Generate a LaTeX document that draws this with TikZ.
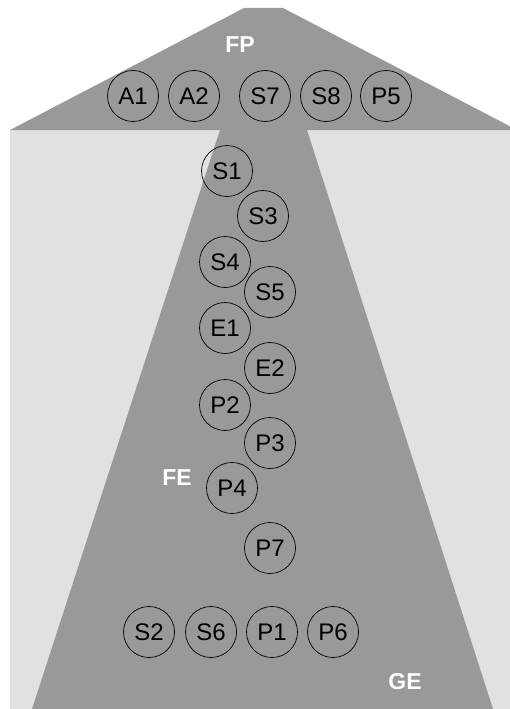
\documentclass[tikz,border=0pt]{standalone}
\usepackage{fontspec}
\setmainfont{Liberation Sans}
\definecolor{darkfill}{HTML}{999999}
\definecolor{lightfill}{HTML}{E1E1E1}
\begin{document}
\begin{tikzpicture}[x=1pt,y=-1pt,
  item/.style={circle,draw=black,line width=0.7pt,minimum size=51pt,inner sep=0pt,font=\fontsize{24}{26}\selectfont},
  zone/.style={text=white,font=\fontsize{23}{25}\selectfont\bfseries,inner sep=0pt}]
\useasboundingbox (0,0) rectangle (510,709);
% background panel
\fill[lightfill] (10,130) rectangle (510,709);
% arrow head and stem
\begin{scope}
\clip (0,0) rectangle (510,709);
\fill[darkfill] (10,130) -- (244,8) -- (283,8) -- (517,130) -- cycle;
\fill[darkfill] (220,130) -- (307,130) -- (493,709) -- (32,709) -- cycle;
\end{scope}
% zone labels
\node[zone] (fp) at (240,45) {FP};
\node[zone] (fe) at (177,478) {FE};
\node[zone] (ge) at (405,682) {GE};
% top row
\node[item] (a1) at (133,96) {A1};
\node[item] (a2) at (194,96) {A2};
\node[item] (s7) at (265,96) {S7};
\node[item] (s8) at (326,96) {S8};
\node[item] (p5) at (386,96) {P5};
% column
\node[item] (s1) at (227,171) {S1};
\node[item] (s3) at (263,216) {S3};
\node[item] (s4) at (225,262) {S4};
\node[item] (s5) at (270,292) {S5};
\node[item] (e1) at (225,328) {E1};
\node[item] (e2) at (270,368) {E2};
\node[item] (p2) at (225,405) {P2};
\node[item] (p3) at (270,443) {P3};
\node[item] (p4) at (232,488) {P4};
\node[item] (p7) at (270,548) {P7};
% bottom row
\node[item] (s2) at (149,632) {S2};
\node[item] (s6) at (211,632) {S6};
\node[item] (p1) at (272,632) {P1};
\node[item] (p6) at (333,632) {P6};
\end{tikzpicture}
\end{document}
